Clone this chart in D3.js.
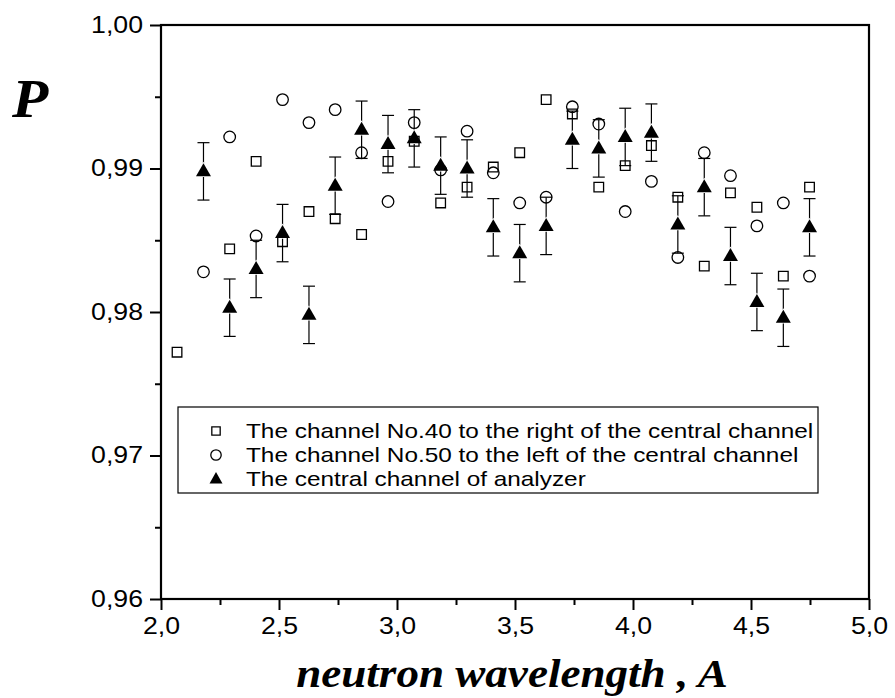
<!DOCTYPE html>
<html>
<head>
<meta charset="utf-8">
<script src="https://cdn.jsdelivr.net/npm/d3@7"></script>
<style>
  html, body { margin: 0; padding: 0; background: #fff; }
  svg { display: block; }
</style>
</head>
<body>
<svg id="chart" width="895" height="698"></svg>
<script>
// ---- data ----
const xTickLabels = ["2,0", "2,5", "3,0", "3,5", "4,0", "4,5", "5,0"];
const yTickLabels = ["0,96", "0,97", "0,98", "0,99", "1,00"];

const rightX = [2.068, 2.291, 2.403, 2.515, 2.627, 2.738, 2.850, 2.962, 3.073, 3.185, 3.297, 3.408,
                3.520, 3.632, 3.743, 3.855, 3.967, 4.078, 4.190, 4.302, 4.413, 4.525, 4.637, 4.748];
const rightP = [0.9772, 0.9844, 0.9905, 0.9849, 0.9870, 0.9865, 0.9854, 0.9905, 0.9919, 0.9876, 0.9887, 0.9901,
                0.9911, 0.9948, 0.9938, 0.9887, 0.9902, 0.9916, 0.9880, 0.9832, 0.9883, 0.9873, 0.9825, 0.9887];

const leftX = [2.180, 2.291, 2.403, 2.515, 2.627, 2.738, 2.850, 2.962, 3.073, 3.185, 3.297, 3.408,
               3.520, 3.632, 3.743, 3.855, 3.967, 4.078, 4.190, 4.302, 4.413, 4.525, 4.637, 4.748];
const leftP = [0.9828, 0.9922, 0.9853, 0.9948, 0.9932, 0.9941, 0.9911, 0.9877, 0.9932, 0.9899, 0.9926, 0.9897,
               0.9876, 0.9880, 0.9943, 0.9931, 0.9870, 0.9891, 0.9838, 0.9911, 0.9895, 0.9860, 0.9876, 0.9825];

const centralX = [2.180, 2.291, 2.403, 2.515, 2.627, 2.738, 2.850, 2.962, 3.073, 3.185, 3.297, 3.408,
                  3.520, 3.632, 3.743, 3.855, 3.967, 4.078, 4.190, 4.302, 4.413, 4.525, 4.637, 4.748];
const centralP = [0.9898, 0.9803, 0.9830, 0.9855, 0.9798, 0.9888, 0.9927, 0.9917, 0.9921, 0.9902, 0.9900, 0.9859,
                  0.9841, 0.9860, 0.9920, 0.9914, 0.9922, 0.9925, 0.9861, 0.9887, 0.9839, 0.9807, 0.9796, 0.9859];
const centralErr = [0.0020, 0.0020, 0.0020, 0.0020, 0.0020, 0.0020, 0.0020, 0.0020, 0.0020, 0.0020, 0.0020, 0.0020,
                    0.0020, 0.0020, 0.0020, 0.0020, 0.0020, 0.0020, 0.0020, 0.0020, 0.0020, 0.0020, 0.0020, 0.0020];

const legendLabels = [
  "The channel No.40 to the right of the central channel",
  "The channel No.50 to the left of the central channel",
  "The central channel of analyzer"
];

// ---- layout ----
const svg = d3.select("#chart");
const L = 161, R = 869, T = 25, B = 599;
const x = d3.scaleLinear().domain([2.0, 5.0]).range([L, R]);
const y = d3.scaleLinear().domain([0.96, 1.00]).range([B, T]);

const xMajor = [2.0, 2.5, 3.0, 3.5, 4.0, 4.5, 5.0];
const xMinor = [2.25, 2.75, 3.25, 3.75, 4.25, 4.75];
const yMajor = [0.96, 0.97, 0.98, 0.99, 1.00];
const yMinor = [0.965, 0.975, 0.985, 0.995];

const fontSans = "Arial, 'Liberation Sans', Helvetica, sans-serif";
const fontSerif = "'Times New Roman', 'Liberation Serif', serif";
const SX = 1.16; // horizontal stretch of the original lettering

// minor ticks
const xMinorAxis = d3.axisBottom(x).tickValues(xMinor).tickSize(6).tickFormat("");
const yMinorAxis = d3.axisLeft(y).tickValues(yMinor).tickSize(6).tickFormat("");
svg.append("g").attr("transform", `translate(0,${B})`).call(xMinorAxis)
  .call(g => g.select(".domain").remove())
  .selectAll("line").attr("stroke", "#000").attr("stroke-width", 2);
svg.append("g").attr("transform", `translate(${L},0)`).call(yMinorAxis)
  .call(g => g.select(".domain").remove())
  .selectAll("line").attr("stroke", "#000").attr("stroke-width", 2);

// major axes
const xAxis = d3.axisBottom(x).tickValues(xMajor).tickSize(11).tickPadding(8)
  .tickFormat((d, i) => xTickLabels[i]);
const yAxis = d3.axisLeft(y).tickValues(yMajor).tickSize(11).tickPadding(7)
  .tickFormat((d, i) => yTickLabels[i]);

const gx = svg.append("g").attr("transform", `translate(0,${B})`).call(xAxis);
gx.select(".domain").remove();
gx.selectAll("line").attr("stroke", "#000").attr("stroke-width", 2);
gx.selectAll("text").attr("font-family", fontSans).attr("font-size", 23).attr("fill", "#000")
  .attr("transform", `scale(${SX},1)`);

const gy = svg.append("g").attr("transform", `translate(${L},0)`).call(yAxis);
gy.select(".domain").remove();
gy.selectAll("line").attr("stroke", "#000").attr("stroke-width", 2);
gy.selectAll("text").each(function () {
  const t = d3.select(this);
  const xo = +t.attr("x");
  t.attr("x", 0).attr("transform", `translate(${xo},0) scale(${SX},1)`);
}).attr("font-family", fontSans).attr("font-size", 23).attr("fill", "#000");

// frame
svg.append("rect").attr("x", L).attr("y", T).attr("width", R - L).attr("height", B - T)
  .attr("fill", "none").attr("stroke", "#000").attr("stroke-width", 2.2);

// ---- symbols ----
const sq = d3.symbol().type(d3.symbolSquare).size(92);
const ci = d3.symbol().type(d3.symbolCircle).size(105);
const triPath = "M0,-8L7.5,5L-7.5,5Z";

const plot = svg.append("g");

// error bars of central channel
const capW = 6;
const eb = plot.append("g").attr("stroke", "#000").attr("stroke-width", 1.2).attr("fill", "none");
centralX.forEach((cx, i) => {
  const px = x(cx), y1 = y(centralP[i] + centralErr[i]), y0 = y(centralP[i] - centralErr[i]);
  eb.append("line").attr("x1", px).attr("x2", px).attr("y1", y1).attr("y2", y0);
  eb.append("line").attr("x1", px - capW).attr("x2", px + capW).attr("y1", y1).attr("y2", y1);
  eb.append("line").attr("x1", px - capW).attr("x2", px + capW).attr("y1", y0).attr("y2", y0);
});

// triangles (with thin white halo, as in original)
plot.append("g").selectAll("path").data(centralX).join("path")
  .attr("d", triPath)
  .attr("transform", (d, i) => `translate(${x(d)},${y(centralP[i])})`)
  .attr("fill", "#000").attr("stroke", "#fff").attr("stroke-width", 1.5)
  .attr("paint-order", "stroke");

// squares
plot.append("g").selectAll("path").data(rightX).join("path")
  .attr("d", sq)
  .attr("transform", (d, i) => `translate(${x(d)},${y(rightP[i])})`)
  .attr("fill", "none").attr("stroke", "#000").attr("stroke-width", 1.3);

// circles
plot.append("g").selectAll("path").data(leftX).join("path")
  .attr("d", ci)
  .attr("transform", (d, i) => `translate(${x(d)},${y(leftP[i])})`)
  .attr("fill", "none").attr("stroke", "#000").attr("stroke-width", 1.3);

// ---- legend ----
const lg = svg.append("g");
lg.append("rect").attr("x", 178).attr("y", 407).attr("width", 640).attr("height", 86)
  .attr("fill", "#fff").attr("stroke", "#000").attr("stroke-width", 1.2);
const rows = [431, 455, 479];
lg.append("path").attr("d", d3.symbol().type(d3.symbolSquare).size(70)())
  .attr("transform", `translate(216,${rows[0]})`).attr("fill", "none").attr("stroke", "#000").attr("stroke-width", 1.3);
lg.append("path").attr("d", d3.symbol().type(d3.symbolCircle).size(85)())
  .attr("transform", `translate(216,${rows[1]})`).attr("fill", "none").attr("stroke", "#000").attr("stroke-width", 1.3);
lg.append("path").attr("d", "M0,-7L6.5,4.5L-6.5,4.5Z")
  .attr("transform", `translate(216,${rows[2]})`).attr("fill", "#000");
legendLabels.forEach((t, i) => {
  lg.append("text").attr("x", 0).attr("y", 0).attr("dy", "0.35em")
    .attr("transform", `translate(246,${rows[i]}) scale(${SX},1)`)
    .attr("font-family", fontSans).attr("font-size", 21).attr("fill", "#000").text(t);
});

// ---- titles ----
svg.append("text").attr("x", 0).attr("y", 0)
  .attr("transform", `translate(12,117) scale(1.1,1)`)
  .attr("font-family", fontSerif).attr("font-weight", "bold").attr("font-style", "italic")
  .attr("font-size", 54).attr("fill", "#000").text("P");

svg.append("text").attr("x", 0).attr("y", 0).attr("text-anchor", "middle")
  .attr("transform", `translate(512,687) scale(1.1,1)`)
  .attr("font-family", fontSerif).attr("font-weight", "bold").attr("font-style", "italic")
  .attr("font-size", 41).attr("fill", "#000").text("neutron wavelength , A");
</script>
</body>
</html>
